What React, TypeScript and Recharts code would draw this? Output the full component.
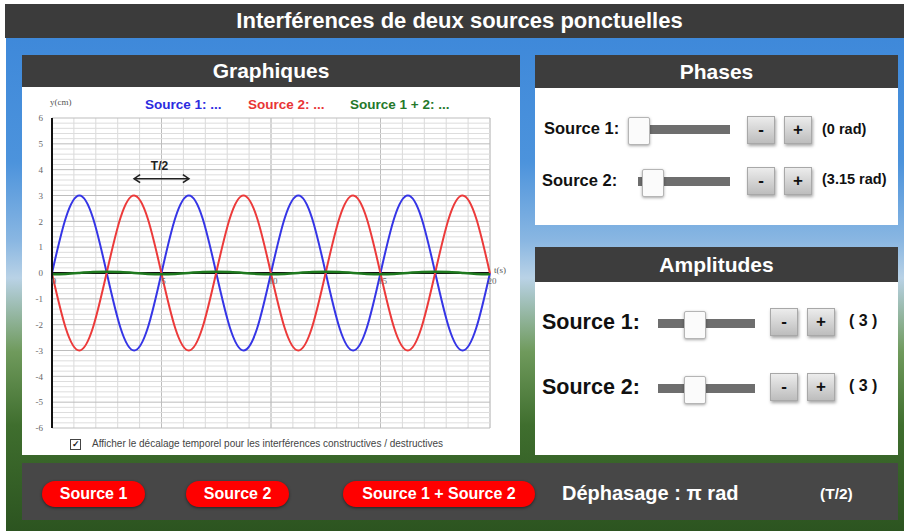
import React from 'react';
import {
  LineChart,
  Line,
  XAxis,
  YAxis,
  CartesianGrid,
  ReferenceLine,
  ReferenceDot,
} from 'recharts';

// time samples (s), one every T/8 with T = 5 s
const times = [
  0, 0.625, 1.25, 1.875, 2.5, 3.125, 3.75, 4.375, 5, 5.625, 6.25, 6.875, 7.5, 8.125, 8.75, 9.375,
  10, 10.625, 11.25, 11.875, 12.5, 13.125, 13.75, 14.375, 15, 15.625, 16.25, 16.875, 17.5, 18.125,
  18.75, 19.375, 20,
];
const source1 = [
  0, 2.12, 3, 2.12, 0, -2.12, -3, -2.12, 0, 2.12, 3, 2.12, 0, -2.12, -3, -2.12, 0, 2.12, 3, 2.12, 0,
  -2.12, -3, -2.12, 0, 2.12, 3, 2.12, 0, -2.12, -3, -2.12, 0,
];
const source2 = [
  -0.02, -2.13, -3, -2.1, 0.02, 2.13, 3, 2.1, -0.02, -2.13, -3, -2.1, 0.02, 2.13, 3, 2.1, -0.02,
  -2.13, -3, -2.1, 0.02, 2.13, 3, 2.1, -0.02, -2.13, -3, -2.1, 0.02, 2.13, 3, 2.1, -0.02,
];
const sum12 = [
  -0.05, -0.035, 0, 0.035, 0.05, 0.035, 0, -0.035, -0.05, -0.035, 0, 0.035, 0.05, 0.035, 0, -0.035,
  -0.05, -0.035, 0, 0.035, 0.05, 0.035, 0, -0.035, -0.05, -0.035, 0, 0.035, 0.05, 0.035, 0, -0.035,
  -0.05,
];

const yTicks = [-6, -5, -4, -3, -2, -1, 0, 1, 2, 3, 4, 5, 6];
const yMinorTicks = [0.2, 0.4, 0.6, 0.8];
const xMinorTicks = [0, 1, 2, 3, 4, 5, 6, 7, 8, 9, 10, 11, 12, 13, 14, 15, 16, 17, 18, 19, 20];
const xMajorTicks = [0, 5, 10, 15, 20];
const xTickLabels = ['0', '5', '10', '15', '20'];

// T/2 arrow, from red crest to next blue crest
const halfPeriodFrom = 3.75;
const halfPeriodTo = 6.25;
const halfPeriodY = 3.65;

const data = times.map((t, i) => ({
  t,
  s1: source1[i],
  s2: source2[i],
  sum: sum12[i],
}));

// every 0.2 cm between the unit lines
const minorLines = yTicks.slice(0, -1).flatMap((v) => yMinorTicks.map((m) => v + m));

const sans = '"Liberation Sans", Arial, sans-serif';
const serif = '"Liberation Serif", "DejaVu Serif", serif';

const ArrowShape = (props: any) => {
  const { x1, y1, x2, y2 } = props;
  return (
    <g>
      <line x1={x1} y1={y1} x2={x2} y2={y2} stroke="#222" strokeWidth={1.6} />
      <path d={`M${x1 + 6},${y1 - 4} L${x1},${y1} L${x1 + 6},${y1 + 4}`} fill="none" stroke="#222" strokeWidth={1.6} />
      <path d={`M${x2 - 6},${y2 - 4} L${x2},${y2} L${x2 - 6},${y2 + 4}`} fill="none" stroke="#222" strokeWidth={1.6} />
      <text x={(x1 + x2) / 2 - 2} y={y1 - 9} textAnchor="middle" fontFamily={sans} fontWeight="bold" fontSize={12} fill="#222">
        T/2
      </text>
    </g>
  );
};

const Header = ({ left, top, width, height, title }: any) => (
  <div
    style={{
      position: 'absolute',
      left,
      top,
      width,
      height,
      background: '#3d3d3d',
      color: '#fff',
      fontFamily: sans,
      fontWeight: 'bold',
      fontSize: 21,
      display: 'flex',
      alignItems: 'center',
      justifyContent: 'center',
    }}>
    {title}
  </div>
);

const Panel = ({ left, top, width, height }: any) => (
  <div style={{ position: 'absolute', left, top, width, height, background: '#fff' }} />
);

const Label = ({ left, top, size, children, color = '#111' }: any) => (
  <div
    style={{
      position: 'absolute',
      left,
      top,
      fontFamily: sans,
      fontWeight: 'bold',
      fontSize: size,
      color,
      lineHeight: 1,
      whiteSpace: 'nowrap',
    }}>
    {children}
  </div>
);

const Slider = ({ left, top, width, thumb }: any) => (
  <>
    <div style={{ position: 'absolute', left, top, width, height: 9, background: '#6e6e6e' }} />
    <div
      style={{
        position: 'absolute',
        left: thumb,
        top: top - 8,
        width: 20,
        height: 26,
        background: '#fbfbfb',
        border: '1px solid #b5b5b5',
        borderRadius: 2,
        boxShadow: '0 1px 3px rgba(0,0,0,0.35)',
      }}
    />
  </>
);

const Btn = ({ left, top, label }: any) => (
  <div
    style={{
      position: 'absolute',
      left,
      top,
      width: 28,
      height: 28,
      background: 'linear-gradient(#ececec, #bdbdbd)',
      border: '1px solid #a8a8a8',
      boxShadow: '1px 2px 3px rgba(0,0,0,0.35)',
      fontFamily: sans,
      fontWeight: 'bold',
      fontSize: 17,
      color: '#111',
      display: 'flex',
      alignItems: 'center',
      justifyContent: 'center',
      boxSizing: 'border-box',
    }}>
    {label}
  </div>
);

const RedBtn = ({ left, width, label }: any) => (
  <div
    style={{
      position: 'absolute',
      left,
      top: 481,
      width,
      height: 26,
      background: '#ff0000',
      borderRadius: 13,
      boxShadow: '0 1px 3px rgba(0,0,0,0.5)',
      color: '#fff',
      fontFamily: sans,
      fontWeight: 'bold',
      fontSize: 16,
      display: 'flex',
      alignItems: 'center',
      justifyContent: 'center',
      whiteSpace: 'nowrap',
    }}>
    {label}
  </div>
);

const App = () => {
  return (
    <div style={{ position: 'absolute', left: 0, top: 0, width: 904, height: 531, background: '#fff', overflow: 'hidden' }}>
      <div
        style={{
          position: 'absolute',
          left: 6,
          top: 4,
          width: 898,
          height: 527,
          background:
            'linear-gradient(#3b86d9 0%, #4c93dc 30%, #8ab7e2 45%, #b9d2e6 52%, #6f9a5c 66%, #3f6e2e 80%, #2c5420 100%)',
        }}
      />
      <div
        style={{
          position: 'absolute',
          left: 5,
          top: 4,
          width: 899,
          height: 34,
          background: '#3b3b3b',
          color: '#fff',
          fontFamily: sans,
          fontWeight: 'bold',
          fontSize: 22,
          display: 'flex',
          alignItems: 'center',
          justifyContent: 'center',
          paddingLeft: 10,
          boxSizing: 'border-box',
        }}>
        Interférences de deux sources ponctuelles
      </div>

      {/* Graphiques */}
      <Header left={22} top={55} width={498} height={32} title="Graphiques" />
      <Panel left={22} top={87} width={498} height={368} />
      <div style={{ position: 'absolute', left: 22, top: 87 }}>
        <LineChart width={498} height={368} data={data} margin={{ top: 31, right: 30, bottom: 27, left: 0 }}>
          <XAxis xAxisId={0} dataKey="t" type="number" domain={[0, 20]} ticks={xMinorTicks} hide />
          <XAxis xAxisId="maj" dataKey="t" type="number" domain={[0, 20]} ticks={xMajorTicks} hide />
          <YAxis
            yAxisId={0}
            type="number"
            domain={[-6, 6]}
            ticks={yTicks}
            interval={0}
            width={30}
            axisLine={{ stroke: '#111', strokeWidth: 2 }}
            tickLine={false}
            tickSize={0}
            tickMargin={9}
            tick={{ fontSize: 9, fill: '#666', fontFamily: serif }}
          />
          <CartesianGrid xAxisId={0} yAxisId={0} horizontal={false} stroke="#dadada" strokeWidth={1} />
          {minorLines.map((v) => (
            <ReferenceLine key={v} y={v} stroke="#dddddd" strokeWidth={1} />
          ))}
          <CartesianGrid xAxisId="maj" yAxisId={0} stroke="#bdbdbd" strokeWidth={1} />
          <ReferenceLine y={0} stroke="#111" strokeWidth={2} />
          {xMajorTicks.map((v, i) => (
            <ReferenceDot
              key={v}
              x={v}
              y={0}
              r={0}
              label={{ value: xTickLabels[i], position: 'bottom', offset: 5, dx: 2, fontSize: 9, fill: '#666', fontFamily: serif }}
            />
          ))}
          <ReferenceDot
            x={20}
            y={0}
            r={0}
            label={{ value: 't(s)', position: 'right', offset: 4, dy: -3, fontSize: 9, fill: '#555', fontFamily: serif }}
          />
          <Line type="natural" dataKey="s1" stroke="#3535e6" strokeWidth={2} dot={false} isAnimationActive={false} />
          <Line type="natural" dataKey="s2" stroke="#ec3a3a" strokeWidth={2} dot={false} isAnimationActive={false} />
          <Line type="natural" dataKey="sum" stroke="#1f7a1f" strokeWidth={2.5} dot={false} isAnimationActive={false} />
          <ReferenceLine
            segment={[
              { x: halfPeriodFrom, y: halfPeriodY },
              { x: halfPeriodTo, y: halfPeriodY },
            ]}
            shape={ArrowShape}
          />
        </LineChart>
      </div>
      <div style={{ position: 'absolute', left: 50, top: 97, fontFamily: serif, fontSize: 9, color: '#555' }}>y(cm)</div>
      <Label left={145} top={98} size={13.5} color="#2b2bdf">Source 1: ...</Label>
      <Label left={248} top={98} size={13.5} color="#e83535">Source 2: ...</Label>
      <Label left={350} top={98} size={13.5} color="#24782a">Source 1 + 2: ...</Label>
      <div
        style={{
          position: 'absolute',
          left: 70,
          top: 439,
          width: 9,
          height: 9,
          border: '1px solid #444',
          fontSize: 9,
          lineHeight: '9px',
          textAlign: 'center',
          fontFamily: sans,
          fontWeight: 'bold',
          color: '#222',
        }}>
        ✓
      </div>
      <div style={{ position: 'absolute', left: 92, top: 438, fontFamily: sans, fontSize: 10, color: '#444', whiteSpace: 'nowrap' }}>
        Afficher le décalage temporel pour les interférences constructives / destructives
      </div>

      {/* Phases */}
      <Header left={535} top={55} width={363} height={33} title="Phases" />
      <Panel left={535} top={88} width={363} height={137} />
      <Label left={544} top={120} size={16.5}>Source 1:</Label>
      <Slider left={630} top={125} width={100} thumb={628} />
      <Btn left={747} top={116} label="-" />
      <Btn left={784} top={116} label="+" />
      <Label left={822} top={122} size={14.5}>(0 rad)</Label>
      <Label left={542} top={172} size={16.5}>Source 2:</Label>
      <Slider left={638} top={177} width={92} thumb={642} />
      <Btn left={747} top={167} label="-" />
      <Btn left={784} top={167} label="+" />
      <Label left={822} top={172} size={14.5}>(3.15 rad)</Label>

      {/* Amplitudes */}
      <Header left={535} top={247} width={363} height={35} title="Amplitudes" />
      <Panel left={535} top={282} width={363} height={173} />
      <Label left={542} top={312} size={21.5}>Source 1:</Label>
      <Slider left={658} top={319} width={97} thumb={684} />
      <Btn left={770} top={308} label="-" />
      <Btn left={807} top={308} label="+" />
      <Label left={849} top={313} size={16}>( 3 )</Label>
      <Label left={542} top={377} size={21.5}>Source 2:</Label>
      <Slider left={658} top={384} width={97} thumb={684} />
      <Btn left={770} top={373} label="-" />
      <Btn left={807} top={373} label="+" />
      <Label left={849} top={378} size={16}>( 3 )</Label>

      {/* bottom bar */}
      <div style={{ position: 'absolute', left: 22, top: 463, width: 876, height: 57, background: '#474747' }} />
      <RedBtn left={42} width={103} label="Source 1" />
      <RedBtn left={186} width={103} label="Source 2" />
      <RedBtn left={343} width={192} label="Source 1 + Source 2" />
      <Label left={562} top={483} size={20} color="#fff">Déphasage : π rad</Label>
      <Label left={820} top={486} size={15.5} color="#fff">(T/2)</Label>
    </div>
  );
};

export default App;
